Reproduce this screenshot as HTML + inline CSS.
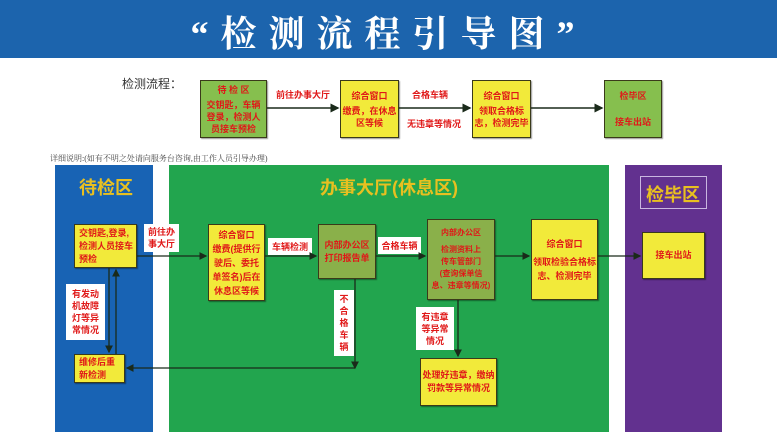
<!DOCTYPE html>
<html><head><meta charset="utf-8"><style>
*{margin:0;padding:0;box-sizing:border-box}
body{width:777px;height:432px;background:#fff;position:relative;overflow:hidden;font-family:"Liberation Sans","Noto Sans CJK SC",sans-serif}
.a{position:absolute}
.b{position:absolute;border:1px solid #3a3a1a;color:#e01818;font-weight:bold;font-size:9px;line-height:13px;text-align:center;display:flex;flex-direction:column;justify-content:center;box-shadow:1px 1px 1px rgba(0,0,0,.4)}
.y{background:#f2ea3a}.g{background:#86bf4e}.gg{background:#8ab04a}
.w{position:absolute;background:#fff;color:#e01818;font-weight:bold;font-size:9px;line-height:12px;text-align:center;display:flex;flex-direction:column;justify-content:center}
.lbl{position:absolute;color:#e01818;font-weight:bold;font-size:9px}
.t{position:absolute;color:#e8c020;font-weight:bold;font-size:18px}
</style></head><body>
<div class="a" style="left:0;top:0;width:777px;height:58px;background:#1c64ad"></div>
<div class="a" style="left:0;top:6px;width:777px;text-align:center;color:#fff;font-size:36px;font-weight:bold;letter-spacing:12px;font-family:'Liberation Serif','Noto Serif CJK SC',serif">“检测流程引导图”</div>
<div class="a" style="left:122px;top:75px;font-size:12px;color:#333">检测流程：</div>
<div class="b g" style="left:200px;top:80px;width:67px;height:58px;line-height:12px">待 检 区<br><span style="margin-top:3px">交钥匙，车辆<br>登录，检测人<br>员接车预检</span></div>
<div class="b y" style="left:340px;top:80px;width:59px;height:58px;line-height:12px">综合窗口<br><span style="margin-top:3px">缴费，在休息<br>区等候</span></div>
<div class="b y" style="left:472px;top:80px;width:59px;height:58px;line-height:12px">综合窗口<br><span style="margin-top:3px">领取合格标<br>志，检测完毕</span></div>
<div class="b g" style="left:604px;top:80px;width:58px;height:58px">检毕区<br><br>接车出站</div>
<div class="lbl" style="left:276px;top:88px">前往办事大厅</div>
<div class="lbl" style="left:412px;top:88px">合格车辆</div>
<div class="lbl" style="left:407px;top:117px">无违章等情况</div>
<svg class="a" style="left:0;top:0" width="777" height="432">
<defs><marker id="m" markerWidth="6" markerHeight="6" refX="5" refY="3" orient="auto"><path d="M0,0L6,3L0,6z" fill="#1a2a1a"/></marker></defs>
<g stroke="#1a2a1a" stroke-width="1.5" fill="none">
<line x1="267" y1="108" x2="338" y2="108" marker-end="url(#m)"/>
<line x1="399" y1="108" x2="470" y2="108" marker-end="url(#m)"/>
<line x1="531" y1="108" x2="602" y2="108" marker-end="url(#m)"/>
</g></svg>
<div class="a" style="left:50px;top:153px;font-size:8px;color:#444;font-family:'Liberation Serif','Noto Serif CJK SC',serif">详细说明:(如有不明之处请向服务台咨询,由工作人员引导办理)</div>
<div class="a" style="left:55px;top:165px;width:98px;height:267px;background:#1863b4"></div>
<div class="a" style="left:169px;top:165px;width:440px;height:267px;background:#22a54e"></div>
<div class="a" style="left:625px;top:165px;width:97px;height:267px;background:#62318f"></div>
<div class="t" style="left:79px;top:174px">待检区</div>
<div class="t" style="left:169px;width:440px;text-align:center;top:174px">办事大厅(休息区)</div>
<div class="a" style="left:640px;top:176px;width:67px;height:33px;border:1px solid #c9b6e0"></div>
<div class="t" style="left:646px;top:181px">检毕区</div>
<div class="b y" style="left:74px;top:224px;width:63px;height:44px;text-align:left;padding-left:4px">交钥匙,登录,<br>检测人员接车<br>预检</div>
<div class="w" style="left:144px;top:224px;width:35px;height:28px">前往办<br>事大厅</div>
<div class="b y" style="left:208px;top:224px;width:57px;height:77px;line-height:14px">综合窗口<br>缴费(提供行<br>驶后、委托<br>单签名)后在<br>休息区等候</div>
<div class="w" style="left:268px;top:238px;width:44px;height:17px">车辆检测</div>
<div class="b gg" style="left:318px;top:224px;width:58px;height:55px">内部办公区<br>打印报告单</div>
<div class="w" style="left:378px;top:237px;width:43px;height:17px">合格车辆</div>
<div class="b gg" style="left:427px;top:219px;width:68px;height:81px;line-height:12px;font-size:8px">内部办公区<br><span style="margin-top:5px">检测资料上<br>传车管部门<br>(查询保单信<br>息、违章等情况)</span></div>
<div class="b y" style="left:531px;top:219px;width:67px;height:81px;line-height:14px">综合窗口<br><span style="margin-top:4px">领取检验合格标<br>志、检测完毕</span></div>
<div class="b y" style="left:642px;top:232px;width:63px;height:47px">接车出站</div>
<div class="w" style="left:66px;top:284px;width:39px;height:56px;line-height:12px">有发动<br>机故障<br>灯等异<br>常情况</div>
<div class="b y" style="left:74px;top:354px;width:51px;height:29px;text-align:left;padding-left:4px">维修后重<br>新检测</div>
<div class="w" style="left:334px;top:290px;width:20px;height:66px;line-height:12px">不<br>合<br>格<br>车<br>辆</div>
<div class="w" style="left:416px;top:307px;width:38px;height:43px">有违章<br>等异常<br>情况</div>
<div class="b y" style="left:420px;top:358px;width:77px;height:48px">处理好违章，缴纳<br>罚款等异常情况</div>
<svg class="a" style="left:0;top:0" width="777" height="432">
<g stroke="#1a2a1a" stroke-width="1.3" fill="none">
<line x1="137" y1="256" x2="206" y2="256" marker-end="url(#m)"/>
<line x1="265" y1="256" x2="316" y2="256" marker-end="url(#m)"/>
<line x1="376" y1="256" x2="425" y2="256" marker-end="url(#m)"/>
<line x1="495" y1="256" x2="529" y2="256" marker-end="url(#m)"/>
<line x1="598" y1="256" x2="640" y2="256" marker-end="url(#m)"/>
<line x1="109" y1="268" x2="109" y2="352" marker-end="url(#m)"/>
<line x1="116" y1="354" x2="116" y2="270" marker-end="url(#m)"/>
<line x1="355" y1="279" x2="355" y2="368" marker-end="url(#m)"/>
<line x1="355" y1="368" x2="127" y2="368" marker-end="url(#m)"/>
<line x1="458" y1="300" x2="458" y2="356" marker-end="url(#m)"/>
</g></svg>
</body></html>
